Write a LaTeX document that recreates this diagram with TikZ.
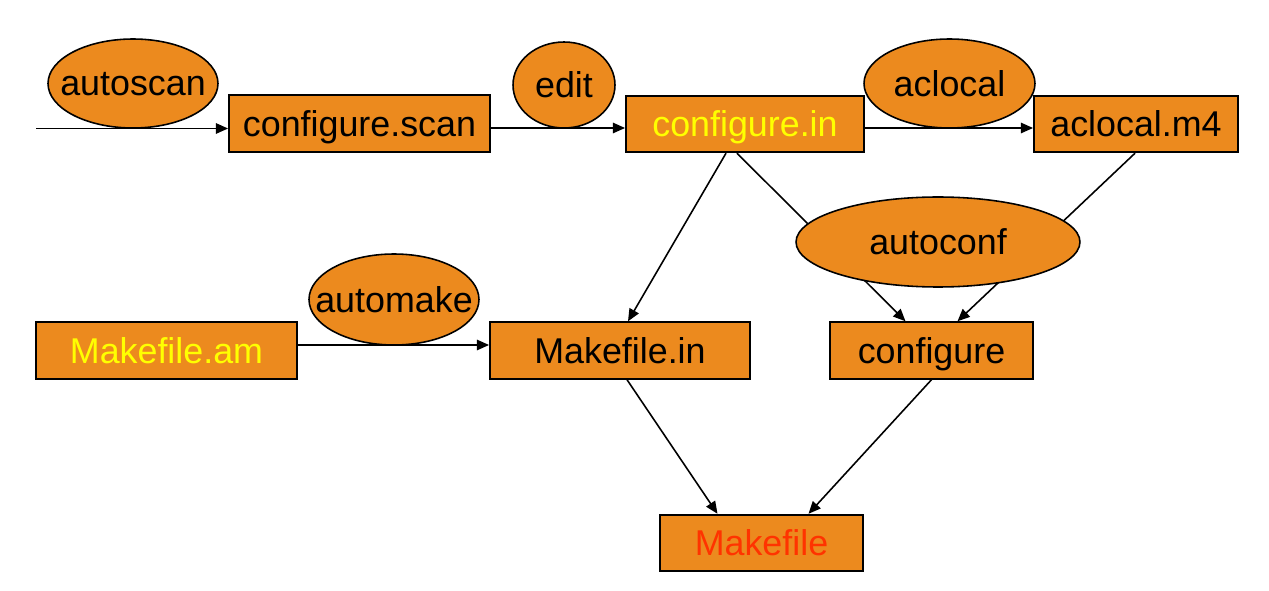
\documentclass[tikz,border=0pt]{standalone}
\usepackage{fontspec}
\setmainfont{Liberation Sans}
\usepackage{xcolor}
\usetikzlibrary{shapes.geometric,arrows.meta,calc}
\definecolor{boxorange}{HTML}{EC8A1E}
\definecolor{fileyellow}{HTML}{FFFF00}
\definecolor{filered}{HTML}{FF3300}

\begin{document}
\begin{tikzpicture}[x=0.02cm, y=-0.02cm,
    filebox/.style={draw, line width=1.1pt, fill=boxorange, minimum height=1.13cm, inner sep=0pt,
        text depth=0pt, font=\fontsize{20.4}{24}\selectfont},
    toolellipse/.style={ellipse, draw, line width=0.9pt, fill=boxorange, inner ysep=0pt, inner xsep=-0.5cm,
        text depth=0pt, font=\fontsize{20.4}{24}\selectfont},
    flow/.style={line width=0.9pt, -{Triangle[length=7pt, width=6pt]}}]
    \useasboundingbox (0,0) rectangle (1269,591);

    % files
    \node[filebox, minimum width=5.22cm] (cscan) at (359.5,123.5) {configure.scan};
    \node[filebox, minimum width=4.76cm, text=fileyellow] (cin) at (745,124) {configure.in};
    \node[filebox, minimum width=4.08cm] (am4) at (1136,124) {aclocal.m4};
    \node[filebox, minimum width=5.22cm, text=fileyellow] (mam) at (166.5,350.5) {Makefile.am};
    \node[filebox, minimum width=5.2cm] (min) at (620,350.5) {Makefile.in};
    \node[filebox, minimum width=4.06cm] (conf) at (931.5,350.5) {configure};
    \node[filebox, minimum width=4.06cm, text=filered] (mk) at (761.5,543) {Makefile};

    % tools
    \node[toolellipse, minimum width=3.4cm, minimum height=1.78cm] (autoscan) at (133,83.5) {autoscan};
    \node[toolellipse, minimum width=2.04cm, minimum height=1.72cm] (edit) at (564,85) {edit};
    \node[toolellipse, minimum width=3.42cm, minimum height=1.78cm] (aclocal) at (949.5,83.5) {aclocal};
    \node[toolellipse, minimum width=3.4cm, minimum height=1.82cm] (automake) at (394,299.5) {automake};

    % connectors
    \coordinate (start) at (36,128.5);
    \draw[flow] (start) -- ($(cscan.west)+(0,5)$);
    \draw[flow] ($(cscan.east)+(0,4.5)$) -- ($(cin.west)+(0,4)$);
    \draw[flow] ($(cin.east)+(0,4)$) -- ($(am4.west)+(0,4)$);
    \draw[flow] ($(mam.east)+(0,-5.5)$) -- ($(min.west)+(0,-5.5)$);
    \draw[flow] ($(cin.south)+(-19,0)$) -- ($(min.north)+(8,0)$);
    \draw[flow] ($(cin.south)+(-8,0)$) -- ($(conf.north)+(-26,0)$);
    \draw[flow] ($(am4.south)+(-1,0)$) -- ($(conf.north)+(26,0)$);
    \draw[flow] ($(min.south)+(7,0)$) -- ($(mk.north)+(-44,0)$);
    \draw[flow] (conf.south) -- ($(mk.north)+(47,0)$);

    % drawn over the lines
    \node[toolellipse, minimum width=5.68cm, minimum height=1.8cm] (autoconf) at (938,242) {autoconf};
\end{tikzpicture}
\end{document}
